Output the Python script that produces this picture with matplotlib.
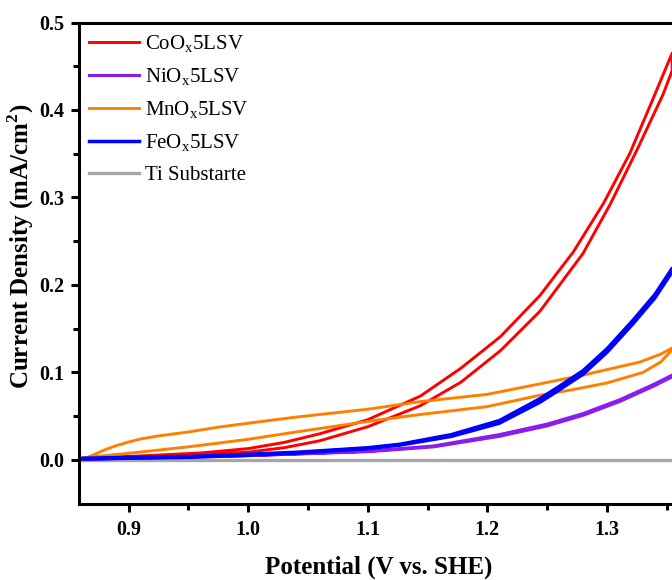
import matplotlib
matplotlib.use("Agg")
import matplotlib.pyplot as plt
from matplotlib.ticker import FormatStrFormatter

plt.rcParams['font.family'] = ['Liberation Serif', 'DejaVu Serif']
plt.rcParams['mathtext.fontset'] = 'custom'
plt.rcParams['mathtext.rm'] = 'Liberation Serif'
plt.rcParams['mathtext.bf'] = 'Liberation Serif:bold'

# CoOx: forward (lower) and reverse (upper) branches
co_fwd_E = [0.862, 0.88, 0.90, 0.93, 0.96, 1.00, 1.03, 1.06, 1.10, 1.144, 1.178, 1.211,
            1.244, 1.28, 1.303, 1.325, 1.347, 1.3545]
co_fwd_j = [0.002, 0.0025, 0.003, 0.004, 0.006, 0.009, 0.014, 0.022, 0.038, 0.062, 0.089, 0.125,
            0.170, 0.236, 0.293, 0.354, 0.418, 0.445]
co_rev_E = [0.862, 0.88, 0.90, 0.93, 0.96, 1.00, 1.03, 1.06, 1.10, 1.144, 1.178, 1.211,
            1.244, 1.272, 1.297, 1.319, 1.338, 1.3545]
co_rev_j = [0.002, 0.003, 0.004, 0.006, 0.008, 0.013, 0.020, 0.030, 0.046, 0.073, 0.105, 0.141,
            0.188, 0.238, 0.293, 0.350, 0.411, 0.465]

# NiOx
ni_fwd_E = [0.862, 0.90, 1.00, 1.10, 1.155, 1.21, 1.25, 1.28, 1.311, 1.34, 1.3545]
ni_fwd_j = [0.001, 0.002, 0.005, 0.0095, 0.015, 0.027, 0.039, 0.051, 0.067, 0.085, 0.095]
ni_rev_E = [0.862, 0.90, 1.00, 1.10, 1.155, 1.21, 1.25, 1.28, 1.311, 1.34, 1.3545]
ni_rev_j = [0.001, 0.002, 0.005, 0.010, 0.016, 0.029, 0.041, 0.053, 0.069, 0.087, 0.097]

# MnOx
mn_fwd_E = [0.866, 0.88, 0.90, 0.95, 1.00, 1.04, 1.10, 1.144, 1.2, 1.244, 1.27, 1.30, 1.33,
            1.345, 1.3545]
mn_fwd_j = [0.003, 0.005, 0.0076, 0.015, 0.0236, 0.032, 0.044, 0.052, 0.061, 0.074, 0.080, 0.088,
            0.100, 0.112, 0.126]
mn_rev_E = [0.866, 0.87, 0.875, 0.88, 0.89, 0.90, 0.91, 0.925, 0.95, 0.975, 1.00, 1.04, 1.10,
            1.144, 1.2, 1.244, 1.28, 1.3277, 1.345, 1.3545]
mn_rev_j = [0.003, 0.0055, 0.0085, 0.0115, 0.0165, 0.0205, 0.024, 0.0275, 0.032, 0.0375, 0.042,
            0.049, 0.058, 0.0667, 0.075, 0.087, 0.097, 0.112, 0.121, 0.128]

# FeOx
fe_fwd_E = [0.862, 0.90, 0.95, 1.00, 1.043, 1.10, 1.127, 1.17, 1.21, 1.244, 1.26, 1.28, 1.30,
            1.322, 1.34, 1.3545]
fe_fwd_j = [0.001, 0.002, 0.003, 0.0055, 0.008, 0.013, 0.017, 0.027, 0.042, 0.066, 0.080, 0.098,
            0.123, 0.156, 0.185, 0.215]
fe_rev_E = [0.862, 0.90, 0.95, 1.00, 1.043, 1.10, 1.127, 1.17, 1.21, 1.244, 1.26, 1.28, 1.30,
            1.322, 1.34, 1.3545]
fe_rev_j = [0.002, 0.003, 0.004, 0.0065, 0.009, 0.014, 0.018, 0.029, 0.045, 0.070, 0.084, 0.102,
            0.127, 0.160, 0.189, 0.219]

# Bare Ti substrate
ti_E = [0.86, 1.3545]
ti_j = [0.0, 0.0]

labels = [r'CoO$_\mathregular{x}$5LSV', r'NiO$_\mathregular{x}$5LSV',
          r'MnO$_\mathregular{x}$5LSV', r'FeO$_\mathregular{x}$5LSV', 'Ti Substarte']
colors = ['#ff0000', '#8a1cf0', '#ff8000', '#0000ff', '#a6a6a6']

fig = plt.figure(figsize=(6.72, 5.8), dpi=100)
ax = fig.add_axes([79 / 672, 0.1315, 0.8924, 0.8297])


def loop(fE, fj, rE, rj):
    return list(fE) + list(rE[::-1]), list(fj) + list(rj[::-1])


E, j = loop(co_fwd_E, co_fwd_j, co_rev_E, co_rev_j)
ax.plot(E, j, color=colors[0], lw=2.1, label=labels[0], zorder=3)
E, j = loop(ni_fwd_E, ni_fwd_j, ni_rev_E, ni_rev_j)
ax.plot(E, j, color=colors[1], lw=2.2, label=labels[1], zorder=4)
E, j = loop(mn_fwd_E, mn_fwd_j, mn_rev_E, mn_rev_j)
ax.plot(E, j, color=colors[2], lw=2.1, label=labels[2], zorder=5)
E, j = loop(fe_fwd_E, fe_fwd_j, fe_rev_E, fe_rev_j)
ax.plot(E, j, color=colors[3], lw=2.5, label=labels[3], zorder=6)
ax.plot(ti_E, ti_j, color=colors[4], lw=2.4, label=labels[4], zorder=2)

ax.set_xlim(0.8586, 1.36)
ax.set_ylim(-0.05, 0.5)
ax.set_xticks([0.9, 1.0, 1.1, 1.2, 1.3])
ax.set_xticks([0.95, 1.05, 1.15, 1.25, 1.35], minor=True)
ax.set_yticks([0.0, 0.1, 0.2, 0.3, 0.4, 0.5])
ax.set_yticks([0.05, 0.15, 0.25, 0.35, 0.45], minor=True)
ax.xaxis.set_major_formatter(FormatStrFormatter('%.1f'))
ax.yaxis.set_major_formatter(FormatStrFormatter('%.1f'))

for s in ['left', 'bottom', 'top']:
    ax.spines[s].set_linewidth(2.2)
ax.spines['right'].set_visible(False)
ax.tick_params(which='major', direction='out', length=6, width=2.2,
               labelsize=14.5, top=False, right=False)
ax.tick_params(axis='x', which='major', pad=6)
ax.tick_params(axis='y', which='major', pad=4.5)
ax.tick_params(which='minor', direction='out', length=4, width=2.2, top=False, right=False)
for lbl in ax.get_xticklabels() + ax.get_yticklabels():
    lbl.set_fontweight('bold')

ax.set_xlabel('Potential (V vs. SHE)', fontsize=18, fontweight='bold')
ax.xaxis.set_label_coords(0.5, -0.107)
ax.set_ylabel(r'Current Density (mA/cm$^\mathbf{2}$)', fontsize=18, fontweight='bold')
ax.yaxis.set_label_coords(-0.072, 0.535)

leg = ax.legend(loc='upper left', bbox_to_anchor=(-0.008, 1.008), frameon=False, fontsize=15,
                handlelength=2.4, handletextpad=0.3, labelspacing=0.55, borderaxespad=0.3)

fig.savefig('out.png', dpi=100)
